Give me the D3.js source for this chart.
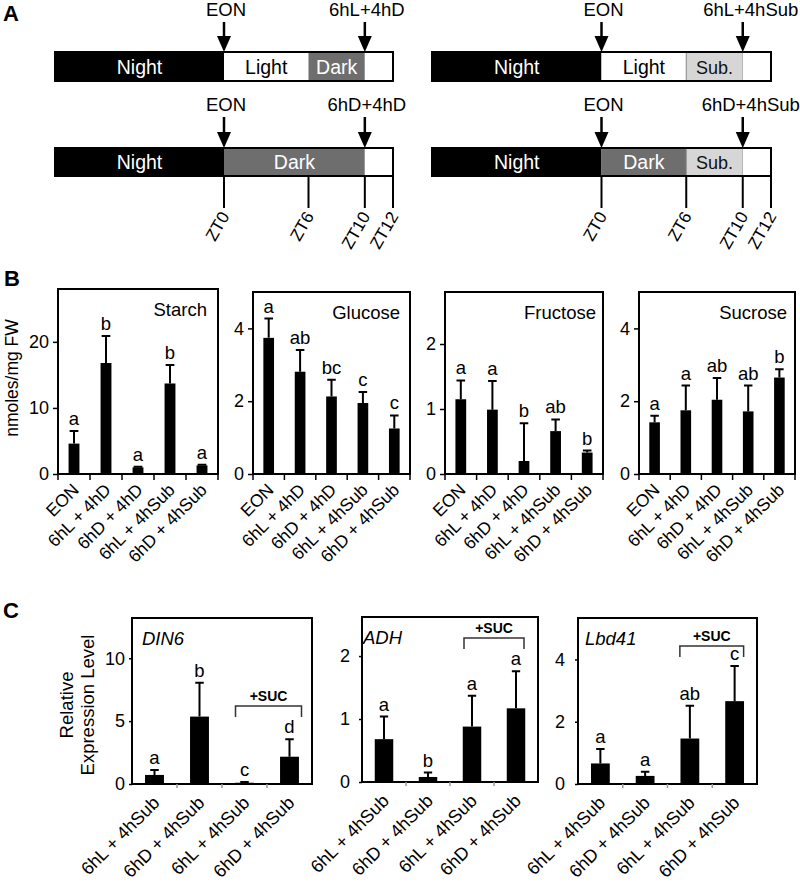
<!DOCTYPE html>
<html lang="en">
<head>
<meta charset="UTF-8">
<title>Sugar and gene expression</title>
<script src="https://d3js.org/d3.v7.min.js"></script>
<style>
    body { margin: 0; background: #fff; }
    svg { display: block; font-family: "Liberation Sans", Arial, sans-serif; }
    .frame { fill: none; stroke: #000; stroke-width: 2px; }
    .bar { fill: #000; }
    .err { stroke: #000; stroke-width: 2px; fill: none; }
    .letter { font-size: 18.5px; text-anchor: middle; }
    .axis text { font-size: 18px; fill: #000; }
    .axis path { display: none; }
</style>
</head>
<body>
<svg id="fig" width="800" height="882"></svg>
<script>
// ---- panel A: light regimes (hours relative to end of night) ----
const regimeLT = [["Night", -12, 0], ["Light", 0, 6], ["Dark", 6, 10], ["", 10, 12]];
const regimeLB = [["Night", -12, 0], ["Dark", 0, 10], ["", 10, 12]];
const regimeRT = [["Night", -12, 0], ["Light", 0, 6], ["Sub.", 6, 10], ["", 10, 12]];
const regimeRB = [["Night", -12, 0], ["Dark", 0, 6], ["Sub.", 6, 10], ["", 10, 12]];
const harvestLT = ["EON", "6hL+4hD"];
const harvestLB = ["EON", "6hD+4hD"];
const harvestRT = ["EON", "6hL+4hSub"];
const harvestRB = ["EON", "6hD+4hSub"];
const harvestHours = [0, 10];
const ztHours = [0, 6, 10, 12];
const ztLabels = ["ZT0", "ZT6", "ZT10", "ZT12"];

// ---- panel B: carbohydrates ----
const sugarCats = ["EON", "6hL + 4hD", "6hD + 4hD", "6hL + 4hSub", "6hD + 4hSub"];
const starchMean = [4.6, 16.8, 1.0, 13.7, 1.3];
const starchErr = [1.9, 4.1, 0.1, 2.8, 0.1];
const starchLetters = ["a", "b", "a", "b", "a"];
const glucoseMean = [3.74, 2.81, 2.13, 1.95, 1.25];
const glucoseErr = [0.53, 0.60, 0.46, 0.30, 0.36];
const glucoseLetters = ["a", "ab", "bc", "c", "c"];
const fructoseMean = [1.15, 0.99, 0.20, 0.66, 0.33];
const fructoseErr = [0.29, 0.44, 0.58, 0.18, 0.03];
const fructoseLetters = ["a", "a", "b", "ab", "b"];
const sucroseMean = [1.42, 1.75, 2.04, 1.72, 2.65];
const sucroseErr = [0.18, 0.68, 0.60, 0.71, 0.23];
const sucroseLetters = ["a", "a", "ab", "ab", "b"];

// ---- panel C: gene expression ----
const geneCats = ["6hL + 4hSub", "6hD + 4hSub", "6hL + 4hSub", "6hD + 4hSub"];
const din6Mean = [0.72, 5.36, 0.10, 2.17];
const din6Err = [0.39, 2.70, 0.05, 1.39];
const din6Letters = ["a", "b", "c", "d"];
const adhMean = [0.68, 0.08, 0.88, 1.17];
const adhErr = [0.36, 0.07, 0.49, 0.59];
const adhLetters = ["a", "b", "a", "a"];
const lbdMean = [0.66, 0.26, 1.46, 2.66];
const lbdErr = [0.46, 0.13, 1.05, 1.13];
const lbdLetters = ["a", "a", "ab", "c"];

const svg = d3.select("#fig");

function panelLetter(t, x, y) {
    svg.append("text").attr("x", x).attr("y", y)
        .attr("font-size", 22).attr("font-weight", "bold").text(t);
}
panelLetter("A", 3, 21);
panelLetter("B", 4, 286);
panelLetter("C", 3, 618);

// ---------- A ----------
const segFill = { "Night": "#000", "Light": "#fff", "Dark": "#6e6e6e", "Sub.": "#d6d6d6", "": "#fff" };
const segText = { "Night": "#fff", "Light": "#000", "Dark": "#fff", "Sub.": "#111" };

function timeline(regime, harvest, x0, x1, y, h, labelY) {
    const hx = d3.scaleLinear().domain([-12, 12]).range([x0, x1]);
    const g = svg.append("g");
    g.selectAll("rect.seg").data(regime).join("rect")
        .attr("x", d => hx(d[1])).attr("y", y)
        .attr("width", d => hx(d[2]) - hx(d[1])).attr("height", h)
        .attr("fill", d => segFill[d[0]])
        .attr("stroke", d => d[0] === "Sub." ? "#888" : "none").attr("stroke-width", 1);
    g.append("rect").attr("x", hx(-12)).attr("y", y).attr("width", hx(12) - hx(-12)).attr("height", h)
        .attr("fill", "none").attr("stroke", "#000").attr("stroke-width", 2);
    g.selectAll("text.seg").data(regime.filter(d => d[0])).join("text")
        .attr("x", d => hx((d[1] + d[2]) / 2)).attr("y", y + h / 2 + 7)
        .attr("text-anchor", "middle").attr("font-size", d => d[0] === "Sub." ? 18 : 19.5)
        .attr("fill", d => segText[d[0]]).text(d => d[0]);
    harvestHours.forEach((hr, i) => {
        const ax = hx(hr);
        g.append("line").attr("x1", ax).attr("x2", ax).attr("y1", labelY + 6).attr("y2", y - 12)
            .attr("stroke", "#000").attr("stroke-width", 2.5);
        g.append("path").attr("d", `M${ax - 7},${y - 16}L${ax + 7},${y - 16}L${ax},${y}Z`).attr("fill", "#000");
        g.append("text").attr("x", ax + (harvest[i].length > 7 ? 8 : 2)).attr("y", labelY)
            .attr("text-anchor", "middle").attr("font-size", 18.5).text(harvest[i]);
    });
    ztHours.forEach((hr, i) => {
        if (y < 100) return;
        const tx = hx(hr);
        g.append("line").attr("x1", tx).attr("x2", tx).attr("y1", y + h).attr("y2", y + h + 32)
            .attr("stroke", "#000").attr("stroke-width", 2);
        g.append("text").attr("transform", `translate(${tx + 6},${y + h + 40}) rotate(-60)`)
            .attr("text-anchor", "end").attr("font-size", 17).text(ztLabels[i]);
    });
}
timeline(regimeLT, harvestLT, 55, 393, 52, 29, 16);
timeline(regimeLB, harvestLB, 55, 393, 148, 28, 111);
timeline(regimeRT, harvestRT, 432, 771, 52, 29, 16);
timeline(regimeRB, harvestRB, 432, 771, 148, 28, 111);

// ---------- bar chart helper ----------
function barChart(o) {
    const g = svg.append("g");
    const idx = o.cats.map((c, i) => i);
    const x = d3.scaleBand().domain(idx).range([o.left, o.right]).padding(0);
    const y = d3.scaleLinear().domain([0, o.max]).range([o.bottom, o.top]);
    const bw = x.bandwidth() * o.barFrac;

    g.selectAll("rect.bar").data(o.mean).join("rect").attr("class", "bar")
        .attr("x", (d, i) => x(i) + (x.bandwidth() - bw) / 2)
        .attr("y", d => y(d)).attr("width", bw).attr("height", d => y(0) - y(d));

    const capW = bw * o.capFrac;
    o.mean.forEach((m, i) => {
        const cx = x(i) + x.bandwidth() / 2;
        const top = y(m + o.err[i]);
        g.append("path").attr("class", "err")
            .attr("d", `M${cx},${y(m)}V${top}M${cx - capW / 2},${top}H${cx + capW / 2}`);
        g.append("text").attr("class", "letter").attr("x", cx).attr("y", top - 6).text(o.letters[i]);
    });

    g.append("rect").attr("class", "frame")
        .attr("x", o.left).attr("y", o.top).attr("width", o.right - o.left).attr("height", o.bottom - o.top);

    // y axis
    const ya = g.append("g").attr("class", "axis").attr("transform", `translate(${o.left},0)`)
        .call(d3.axisLeft(y).tickValues(o.ticks).tickFormat(d3.format("d")).tickSize(o.ytick).tickPadding(o.ypad));
    ya.selectAll("line").attr("stroke", "#000").attr("stroke-width", 1.5);

    // x ticks at band edges
    const edges = idx.map(i => x(i)).concat([o.right]);
    g.selectAll("line.xt").data(o.edgeTicks ? edges : edges.slice(1, -1)).join("line")
        .attr("x1", d => d).attr("x2", d => d).attr("y1", o.bottom).attr("y2", o.bottom + o.xtick)
        .attr("stroke", o.xtickColor).attr("stroke-width", 1.5);

    // rotated category labels
    g.selectAll("text.cat").data(o.cats).join("text")
        .attr("transform", (d, i) => `translate(${x(i) + x.bandwidth() / 2 + o.labDx},${o.bottom + o.labDy}) rotate(-45)`)
        .attr("text-anchor", "end").attr("font-size", o.labSize).text(d => d);

    // title
    g.append("text").attr("x", o.titleX).attr("y", o.top + 27)
        .attr("text-anchor", o.titleAnchor).attr("font-size", 18.5)
        .attr("font-style", o.italic ? "italic" : "normal").text(o.title);

    if (o.suc) {
        const s = o.suc;
        const bx0 = x(2) + x.bandwidth() / 2 + s.dx0, bx1 = x(3) + x.bandwidth() / 2 + s.dx1;
        g.append("path").attr("d", `M${bx0},${s.y + 11}V${s.y}H${bx1}V${s.y + 11}`)
            .attr("fill", "none").attr("stroke", "#333").attr("stroke-width", 1.5);
        g.append("text").attr("x", (bx0 + bx1) / 2).attr("y", s.y - 5)
            .attr("text-anchor", "middle").attr("font-size", 14).attr("font-weight", "bold").text("+SUC");
    }
    return g;
}

const bCommon = { cats: sugarCats, bottom: 474, barFrac: 0.34, capFrac: 0.8, ytick: 5, ypad: 4,
    xtick: 6, xtickColor: "#000", edgeTicks: true, labDx: 6, labDy: 17, labSize: 17.5, titleAnchor: "end" };

barChart(Object.assign({}, bCommon, { left: 58, right: 218, top: 289, max: 28, ticks: [0, 10, 20],
    mean: starchMean, err: starchErr, letters: starchLetters, title: "Starch", titleX: 207 }));
barChart(Object.assign({}, bCommon, { left: 253, right: 410, top: 292, max: 5, ticks: [0, 2, 4],
    mean: glucoseMean, err: glucoseErr, letters: glucoseLetters, title: "Glucose", titleX: 400 }));
barChart(Object.assign({}, bCommon, { left: 445, right: 603, top: 292, max: 2.8, ticks: [0, 1, 2],
    mean: fructoseMean, err: fructoseErr, letters: fructoseLetters, title: "Fructose", titleX: 596 }));
barChart(Object.assign({}, bCommon, { left: 639, right: 795, top: 292, max: 5, ticks: [0, 2, 4],
    mean: sucroseMean, err: sucroseErr, letters: sucroseLetters, title: "Sucrose", titleX: 787 }));

svg.append("text").attr("transform", "translate(18,378) rotate(-90)")
    .attr("text-anchor", "middle").attr("font-size", 17.5).text("nmoles/mg FW");

const cCommon = { cats: geneCats, barFrac: 0.42, capFrac: 0.45, ytick: 3, xtick: 4, xtickColor: "#999",
    edgeTicks: false, labDx: 6, labDy: 20, labSize: 18, titleAnchor: "start", italic: true };

barChart(Object.assign({}, cCommon, { left: 132, right: 312, top: 618, bottom: 784, max: 13.2, ticks: [0, 5, 10],
    ypad: 4, mean: din6Mean, err: din6Err, letters: din6Letters, title: "DIN6", titleX: 142,
    suc: { y: 706, dx0: -9, dx1: 12 } }));
barChart(Object.assign({}, cCommon, { left: 362, right: 538, top: 617, bottom: 782, max: 2.62, ticks: [0, 1, 2],
    ypad: 9, mean: adhMean, err: adhErr, letters: adhLetters, title: "ADH", titleX: 363,
    suc: { y: 638, dx0: -8, dx1: 8 } }));
barChart(Object.assign({}, cCommon, { left: 578, right: 757, top: 618, bottom: 784, max: 5.33, ticks: [0, 2, 4],
    ypad: 10, mean: lbdMean, err: lbdErr, letters: lbdLetters, title: "Lbd41", titleX: 585,
    suc: { y: 646, dx0: -10, dx1: 9 } }));

svg.append("text").attr("transform", "translate(67,705) rotate(-90)")
    .attr("text-anchor", "middle").attr("font-size", 18.5).attr("dy", "0.35em").text("Relative");
svg.append("text").attr("transform", "translate(88,705) rotate(-90)")
    .attr("text-anchor", "middle").attr("font-size", 18.5).attr("dy", "0.35em").text("Expression Level");
</script>
</body>
</html>
